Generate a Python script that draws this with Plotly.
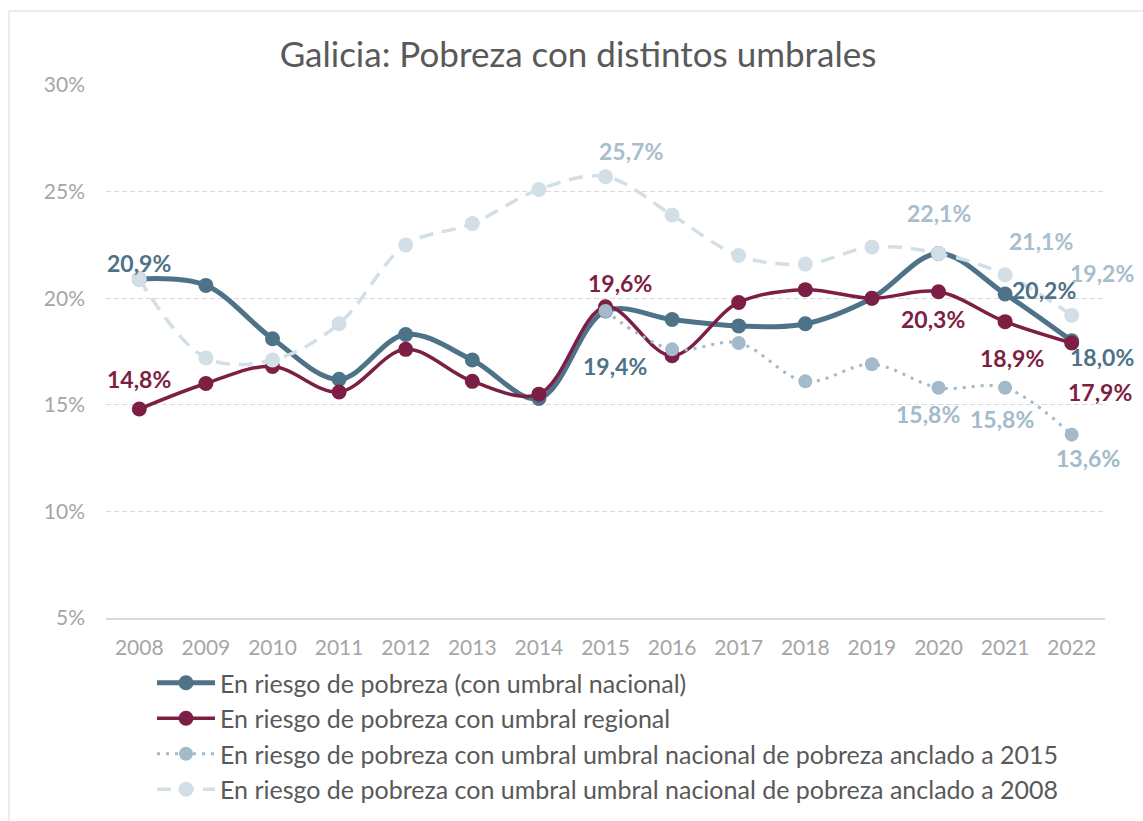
import plotly.graph_objects as go

# ---------------- data ----------------
years = [str(y) for y in range(2008, 2023)]
nacional = [20.9, 20.6, 18.1, 16.2, 18.3, 17.1, 15.3, 19.4, 19.0, 18.7, 18.8, 20.0, 22.1, 20.2, 18.0]
regional = [14.8, 16.0, 16.8, 15.6, 17.6, 16.1, 15.5, 19.6, 17.3, 19.8, 20.4, 20.0, 20.3, 18.9, 17.9]
anclado_2015 = [None, None, None, None, None, None, None, 19.4, 17.6, 17.9, 16.1, 16.9, 15.8, 15.8, 13.6]
anclado_2008 = [20.9, 17.2, 17.1, 18.8, 22.5, 23.5, 25.1, 25.7, 23.9, 22.0, 21.6, 22.4, 22.1, 21.1, 19.2]

series_names = [
    "En riesgo de pobreza (con umbral nacional)",
    "En riesgo de pobreza con umbral regional",
    "En riesgo de pobreza con umbral umbral nacional de pobreza anclado a 2015",
    "En riesgo de pobreza con umbral umbral nacional de pobreza anclado a 2008",
]
y_ticks = [5, 10, 15, 20, 25, 30]

# ---------------- styles ----------------
C_NAC = "#4E7288"
C_REG = "#7D1F44"
C_A15 = "#A2BACA"
C_A08 = "#D3DFE7"
C_A08_LABEL = "#A7BECD"
FONT = "Lato"

series = [
    dict(y=nacional, color=C_NAC, width=5, dash="solid", msize=15, lcolor=C_NAC),
    dict(y=regional, color=C_REG, width=3.5, dash="solid", msize=15, lcolor=C_REG),
    dict(y=anclado_2015, color=C_A15, width=3, dash="3px,6px", msize=14, lcolor=C_A15),
    dict(y=anclado_2008, color=C_A08, width=3.5, dash="14px,9px", msize=15, lcolor=C_A08_LABEL),
]

# labelled points: (series index, year index, xshift, yshift)
label_positions = [
    (0, 0, 0, 16), (0, 7, 9, -55), (0, 13, 39, 4), (0, 14, 30, -16),
    (1, 0, 0, 30), (1, 7, 14, 24), (1, 12, -6, -27), (1, 13, 7, -36), (1, 14, 28, -49),
    (2, 12, -11, -26), (2, 13, -3, -31), (2, 14, 16, -23),
    (3, 7, 25, 26), (3, 12, 0, 40), (3, 13, 36, 34), (3, 14, 30, 42),
]

fig = go.Figure()
for i, s in enumerate(series):
    fig.add_trace(go.Scatter(
        x=years, y=s["y"], name=series_names[i], mode="lines+markers",
        line=dict(color=s["color"], width=s["width"], dash=s["dash"], shape="spline", smoothing=1),
        marker=dict(color=s["color"], size=s["msize"]),
        legendgroup=f"g{i}", connectgaps=False, hoverinfo="skip",
    ))

def fmt(v):
    return f"{v:.1f}".replace(".", ",") + "%"

annotations = []
for si, yi, dx, dy in label_positions:
    v = series[si]["y"][yi]
    annotations.append(dict(
        x=yi, y=v, xref="x", yref="y", text="<b>" + fmt(v) + "</b>",
        showarrow=False, xshift=dx, yshift=dy, xanchor="center", yanchor="middle",
        font=dict(family=FONT, size=23, color=series[si]["lcolor"]),
    ))

# plot area: x 106..1105, y 85..618
L, R, T, B = 106, 38, 85, 203
W, H = 1143, 821
pw, ph = W - L - R, H - T - B

def px_x(px):
    return (px - L) / pw

def px_y(py):
    return (H - B - py) / ph

fig.update_layout(
    width=W, height=H,
    margin=dict(l=L, r=R, t=T, b=B, pad=0, autoexpand=False),
    paper_bgcolor="white", plot_bgcolor="white",
    annotations=annotations,
    shapes=[dict(type="rect", xref="paper", yref="paper",
                 x0=px_x(9), x1=px_x(1150), y0=px_y(830), y1=px_y(11),
                 line=dict(color="#D9D9D9", width=1), layer="below")],
    title=dict(text="Galicia: Pobreza con distintos umbrales", x=578 / W, xanchor="center",
               xref="container", y=1 - 55 / H, yanchor="middle", yref="container",
               font=dict(family=FONT, size=35, color="#595959")),
    font=dict(family=FONT, color="#595959"),
    showlegend=True,
    legend=dict(x=152 / W, xanchor="left", xref="container",
                y=1 - 660 / H, yanchor="top", yref="container",
                orientation="v", font=dict(family=FONT, size=25, color="#595959"),
                tracegroupgap=0, itemwidth=58, bgcolor="rgba(0,0,0,0)"),
    xaxis=dict(type="category", range=[-0.5, 14.5], showgrid=False, showline=True,
               linecolor="#D9D9D9", linewidth=2, ticks="", ticklabelstandoff=10,
               tickfont=dict(family=FONT, size=21, color="#A6A6A6"), zeroline=False,
               automargin=False),
    yaxis=dict(range=[5, 30], tickvals=y_ticks, ticktext=[f"{t}%" for t in y_ticks],
               showgrid=True, gridcolor="#D9D9D9", gridwidth=1, griddash="5px,3px",
               zeroline=False, showline=False, ticks="", ticklabelstandoff=20,
               tickfont=dict(family=FONT, size=21, color="#A6A6A6"), automargin=False),
)

fig.write_html("out.html", config={"displayModeBar": False},
               post_script="document.body.style.margin='0';")
